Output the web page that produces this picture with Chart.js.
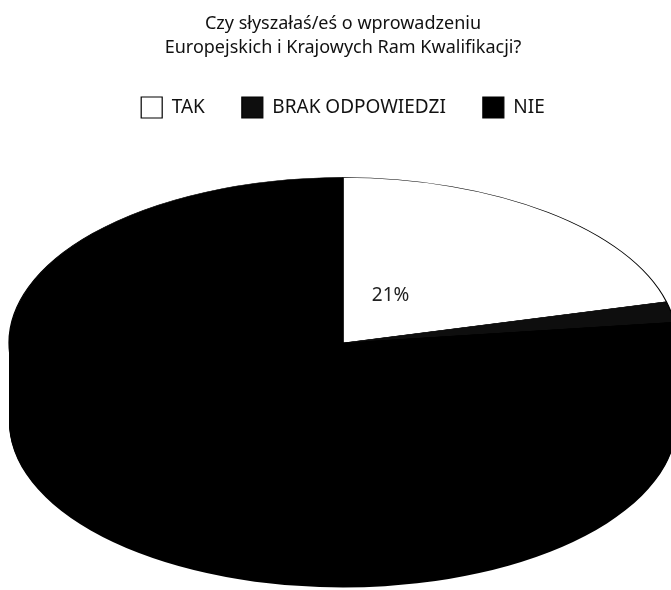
<!DOCTYPE html>
<html lang="pl">
<head>
  <meta charset="UTF-8">
  <title>Ramy Kwalifikacji – ankieta</title>
  <script src="https://cdn.jsdelivr.net/npm/chart.js"></script>
  <style>
    body {
      margin: 0;
      background: #fff;
    }
    .chart-box {
      width: 671px;
      height: 590px;
      position: relative;
    }
  </style>
</head>
<body>
  <div class="chart-box">
    <canvas id="pieChart"></canvas>
  </div>

  <script>
    // Dane ankiety
    const answers = ['TAK', 'BRAK ODPOWIEDZI', 'NIE'];
    const shares = [21, 2, 77];
    const topColors = ['#ffffff', '#0e0e0e', '#000000'];
    const sideColors = ['#d0d0d0', '#080808', '#000000'];
    const shownLabels = [true, false, false];

    const titleLines = ['Czy słyszałaś/eś o wprowadzeniu', 'Europejskich i Krajowych Ram Kwalifikacji?'];

    const FONT = "'Noto Sans', 'Open Sans', sans-serif";
    const TILT = 0.4955;   // spłaszczenie elipsy
    const DEPTH = 79;      // grubość bocznej ścianki

    // Wtyczka rysująca "3D" – boczna ścianka + spłaszczony wierzch
    const pie3d = {
      id: 'pie3d',
      beforeDatasetsDraw(chart) {
        const ctx = chart.ctx;
        const arcs = chart.getDatasetMeta(0).data;
        if (!arcs.length) return;
        const cx = arcs[0].x, cy = arcs[0].y;

        for (let d = DEPTH; d >= 1; d--) {
          ctx.save();
          ctx.translate(cx, cy + d);
          ctx.scale(1, TILT);
          ctx.translate(-cx, -cy);
          arcs.forEach((arc, i) => {
            const p = arc.getProps(['x', 'y', 'startAngle', 'endAngle', 'outerRadius'], true);
            ctx.beginPath();
            ctx.moveTo(p.x, p.y);
            ctx.arc(p.x, p.y, p.outerRadius, p.startAngle, p.endAngle);
            ctx.closePath();
            ctx.fillStyle = sideColors[i];
            ctx.fill();
          });
          ctx.restore();
        }

        ctx.save();
        ctx.translate(cx, cy);
        ctx.scale(1, TILT);
        ctx.translate(-cx, -cy);
      },
      afterDatasetsDraw(chart) {
        const ctx = chart.ctx;
        const arcs = chart.getDatasetMeta(0).data;
        if (!arcs.length) return;
        ctx.restore();

        // etykiety procentowe na wierzchu
        const cx = arcs[0].x, cy = arcs[0].y;
        ctx.save();
        ctx.font = '19px ' + FONT;
        ctx.fillStyle = '#222';
        ctx.textAlign = 'center';
        ctx.textBaseline = 'middle';
        arcs.forEach((arc, i) => {
          if (!shownLabels[i]) return;
          const p = arc.getProps(['startAngle', 'endAngle', 'outerRadius'], true);
          const a = p.startAngle + 0.35 * (p.endAngle - p.startAngle);
          const r = p.outerRadius * 0.32;
          const x = cx + r * Math.cos(a);
          const y = cy + r * Math.sin(a) * TILT;
          ctx.fillText(shares[i] + '%', x, y);
        });
        ctx.restore();
      }
    };

    new Chart(document.getElementById('pieChart'), {
      type: 'pie',
      data: {
        labels: answers,
        datasets: [{
          data: shares,
          backgroundColor: topColors,
          borderColor: '#000',
          borderWidth: 1.2,
          radius: 334,
          clip: false
        }]
      },
      options: {
        responsive: true,
        maintainAspectRatio: false,
        animation: false,
        events: [],
        layout: {
          padding: { left: 15, right: 0, top: 0, bottom: 32 }
        },
        plugins: {
          title: {
            display: true,
            text: titleLines,
            color: '#111',
            font: { family: FONT, size: 18, weight: 'normal', lineHeight: 1.333 },
            padding: { top: 12, bottom: 0 }
          },
          legend: {
            position: 'top',
            labels: {
              color: '#111',
              font: { family: FONT, size: 19 },
              boxWidth: 21,
              boxHeight: 21,
              padding: 37
            }
          },
          tooltip: { enabled: false }
        }
      },
      plugins: [pie3d]
    });
  </script>
</body>
</html>
